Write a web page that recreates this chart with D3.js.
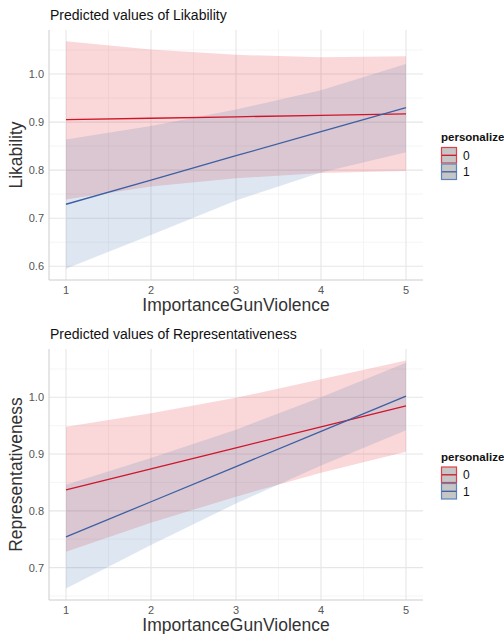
<!DOCTYPE html>
<html lang="en">
<head>
<meta charset="UTF-8">
<title>Predicted values</title>
<script src="https://cdn.jsdelivr.net/npm/d3@7/dist/d3.min.js"></script>
<style>
  body { margin: 0; background: #fff; }
  svg { display: block; font-family: "Liberation Sans", Arial, sans-serif; }
</style>
</head>
<body>
<div class="chart"></div>
<script>
// x values (ImportanceGunViolence) and the tick labels
const xVals = [1, 2, 3, 4, 5]
const xTicks = [1, 2, 3, 4, 5]
const groups = ['0', '1']

// Likability: personalize 0 / 1, fit + ci
const likFit0 = [0.905, 0.908, 0.911, 0.914, 0.917]
const likLow0 = [0.739, 0.766, 0.783, 0.794, 0.798]
const likHigh0 = [1.068, 1.051, 1.040, 1.035, 1.037]
const likFit1 = [0.729, 0.779, 0.830, 0.880, 0.930]
const likLow1 = [0.595, 0.665, 0.737, 0.795, 0.837]
const likHigh1 = [0.864, 0.892, 0.926, 0.966, 1.021]
const likTicks = [0.6, 0.7, 0.8, 0.9, 1.0]

// Representativeness
const repFit0 = [0.837, 0.874, 0.911, 0.948, 0.985]
const repLow0 = [0.728, 0.779, 0.825, 0.867, 0.904]
const repHigh0 = [0.948, 0.972, 0.999, 1.032, 1.065]
const repFit1 = [0.754, 0.816, 0.878, 0.940, 1.002]
const repLow1 = [0.663, 0.740, 0.813, 0.880, 0.942]
const repHigh1 = [0.846, 0.893, 0.943, 1.000, 1.061]
const repTicks = [0.7, 0.8, 0.9, 1.0]

const width = 504
const height = 634
const fills = { '0': '#e41a1c', '1': '#4a78b4' }
const fillOpacity = { '0': 0.17, '1': 0.18 }
const lineColors = { '0': '#d0152b', '1': '#3d5fa3' }
const keyBorders = { '0': '#e0404a', '1': '#5a86bd' }

const svg = d3.select('.chart').append('svg')
    .attr('width', width)
    .attr('height', height)

function drawPanel(opt) {
    const { top, bottom, title, yTitle, ticks, series } = opt
    const left = 49, right = 423
    const g = svg.append('g')

    const x = d3.scaleLinear().domain([0.8, 5.2]).range([left, right])
    const allY = series.flatMap(s => s.low.concat(s.high))
    const [mn, mx] = d3.extent(allY)
    const pad = (mx - mn) * 0.05
    const y = d3.scaleLinear().domain([mn - pad, mx + pad]).range([bottom, top])

    // minor grid
    const xMinor = xTicks.slice(0, -1).map(d => d + 0.5)
    const step = ticks[1] - ticks[0]
    const yMinor = [ticks[0] - step / 2].concat(ticks.map(d => d + step / 2))
        .filter(d => d >= y.domain()[0] && d <= y.domain()[1])
    g.selectAll('.xminor').data(xMinor).join('line')
        .attr('x1', d => x(d)).attr('x2', d => x(d))
        .attr('y1', top).attr('y2', bottom)
        .attr('stroke', '#f0f0f0').attr('stroke-width', 0.7)
    g.selectAll('.yminor').data(yMinor).join('line')
        .attr('x1', left).attr('x2', right)
        .attr('y1', d => y(d)).attr('y2', d => y(d))
        .attr('stroke', '#f0f0f0').attr('stroke-width', 0.7)
    // major grid
    g.selectAll('.xmajor').data(xTicks).join('line')
        .attr('x1', d => x(d)).attr('x2', d => x(d))
        .attr('y1', top).attr('y2', bottom)
        .attr('stroke', '#e6e6e6').attr('stroke-width', 1.1)
    g.selectAll('.ymajor').data(ticks).join('line')
        .attr('x1', left).attr('x2', right)
        .attr('y1', d => y(d)).attr('y2', d => y(d))
        .attr('stroke', '#e6e6e6').attr('stroke-width', 1.1)

    // ribbons then lines
    const area = d3.area().x(d => x(d.x)).y0(d => y(d.lo)).y1(d => y(d.hi))
    const line = d3.line().x(d => x(d.x)).y(d => y(d.fit))
    series.forEach(s => {
        const pts = xVals.map((v, i) => ({ x: v, lo: s.low[i], hi: s.high[i], fit: s.fit[i] }))
        s.pts = pts
        g.append('path').datum(pts).attr('d', area)
            .attr('fill', fills[s.key]).attr('fill-opacity', fillOpacity[s.key])
    })
    series.forEach(s => {
        g.append('path').datum(s.pts).attr('d', line)
            .attr('fill', 'none').attr('stroke', lineColors[s.key]).attr('stroke-width', 1.3)
    })

    // axis lines
    g.append('line').attr('x1', left).attr('x2', left).attr('y1', top).attr('y2', bottom)
        .attr('stroke', '#cccccc').attr('stroke-width', 1)
    g.append('line').attr('x1', left).attr('x2', right).attr('y1', bottom).attr('y2', bottom)
        .attr('stroke', '#cccccc').attr('stroke-width', 1)

    // tick labels
    g.selectAll('.ylab').data(ticks).join('text')
        .attr('x', 44).attr('y', d => y(d)).attr('dy', '0.36em')
        .attr('text-anchor', 'end').attr('font-size', 11).attr('fill', '#555')
        .text(d => d3.format('.1f')(d))
    g.selectAll('.xlab').data(xTicks).join('text')
        .attr('x', d => x(d)).attr('y', bottom + 10.5).attr('dy', '0.36em')
        .attr('text-anchor', 'middle').attr('font-size', 11).attr('fill', '#555')
        .text(d => d)

    // titles
    g.append('text').attr('x', 50).attr('y', top - 10)
        .attr('font-size', 14).attr('fill', '#111').text(title)
    g.append('text').attr('x', (left + right) / 2).attr('y', bottom + 31)
        .attr('text-anchor', 'middle').attr('font-size', 17.5).attr('fill', '#333')
        .text('ImportanceGunViolence')
    g.append('text')
        .attr('transform', `translate(22, ${(top + bottom) / 2}) rotate(-90)`)
        .attr('text-anchor', 'middle').attr('font-size', 17.5).attr('fill', '#333')
        .text(yTitle)

    // legend
    const mid = (top + bottom) / 2
    const lg = g.append('g').attr('transform', `translate(441, ${mid - 18})`)
    lg.append('text').attr('x', 0).attr('y', 0).attr('dy', '0.36em')
        .attr('font-size', 11.5).attr('font-weight', 'bold').attr('fill', '#111').text('personalize')
    groups.forEach((k, i) => {
        const ky = 10 + i * 16.5
        lg.append('rect').attr('x', 0.5).attr('y', ky + 0.5).attr('width', 15).attr('height', 15.5)
            .attr('fill', '#c6c6c6').attr('stroke', keyBorders[k]).attr('stroke-width', 1.2)
        lg.append('line').attr('x1', 1).attr('x2', 15.5).attr('y1', ky + 8.3).attr('y2', ky + 8.3)
            .attr('stroke', lineColors[k]).attr('stroke-width', 1.3)
        lg.append('text').attr('x', 22).attr('y', ky + 8.3).attr('dy', '0.36em')
            .attr('font-size', 12).attr('fill', '#111').text(k)
    })
}

drawPanel({
    top: 30, bottom: 280, title: 'Predicted values of Likability', yTitle: 'Likability', ticks: likTicks,
    series: [
        { key: '0', fit: likFit0, low: likLow0, high: likHigh0 },
        { key: '1', fit: likFit1, low: likLow1, high: likHigh1 }
    ]
})
drawPanel({
    top: 349, bottom: 600, title: 'Predicted values of Representativeness', yTitle: 'Representativeness', ticks: repTicks,
    series: [
        { key: '0', fit: repFit0, low: repLow0, high: repHigh0 },
        { key: '1', fit: repFit1, low: repLow1, high: repHigh1 }
    ]
})
</script>
</body>
</html>
